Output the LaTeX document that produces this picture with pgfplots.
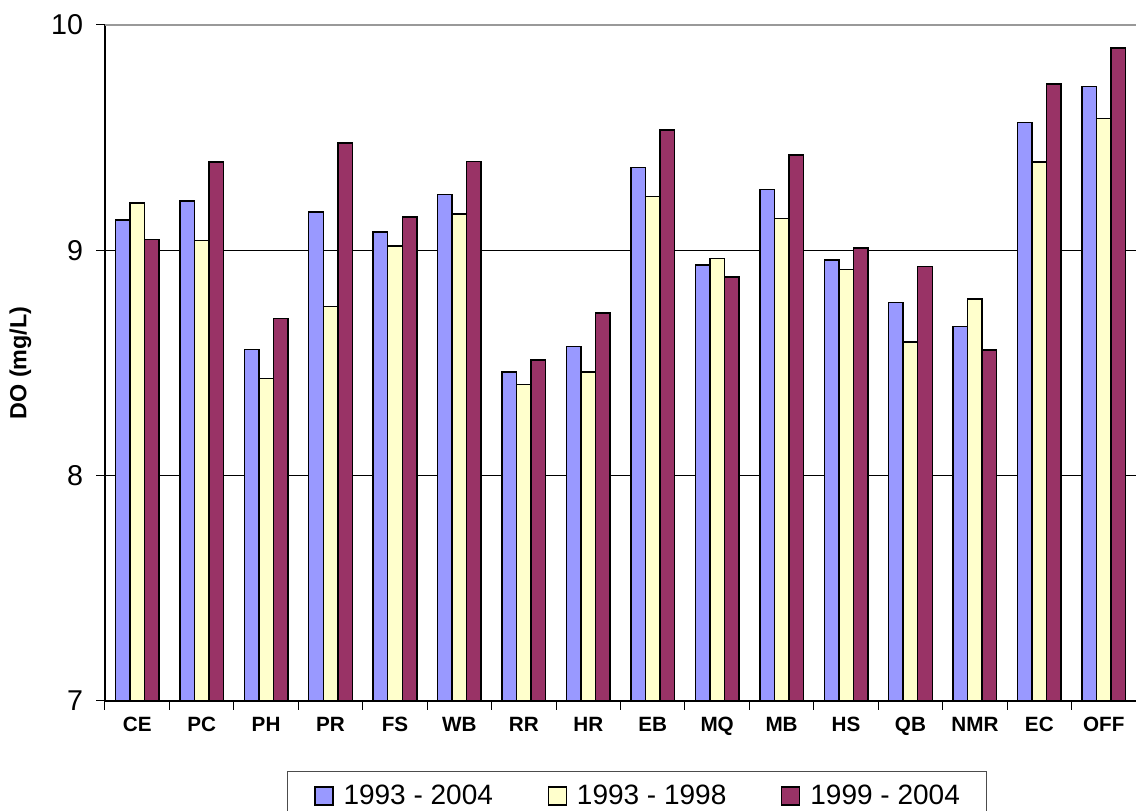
\documentclass[border=0pt]{standalone}
\usepackage{pgfplots}
\pgfplotsset{compat=1.18}
\usepackage{fontspec}
\setmainfont{Liberation Sans}
\definecolor{cblue}{HTML}{9999FF}
\definecolor{cyel}{HTML}{FFFFCC}
\definecolor{cmar}{HTML}{993366}
\begin{document}
\begin{tikzpicture}
\begin{axis}[
  scale only axis,
  width=773.25pt, height=507pt,
  xmin=-0.5, xmax=15.5,
  ymin=7, ymax=10,
  ytick={7,8,9,10},
  ymajorgrids,
  grid style={black, line width=0.75pt},
  axis line style={draw=black, line width=0.9pt},
  axis x line*=bottom,
  axis y line*=left,
  tick align=outside,
  major tick length=6.5pt,
  tick style={black, line width=0.75pt},
  xtick={-0.5,0.5,...,15.5},
  xticklabels={CE,PC,PH,PR,FS,WB,RR,HR,EB,MQ,MB,HS,QB,NMR,EC,OFF,{}},
  xticklabel style={font=\fontsize{15.5pt}{18pt}\selectfont\bfseries, xshift=24.16pt, yshift=-2pt},
  yticklabel style={font=\fontsize{21.5pt}{26pt}\selectfont, xshift=-6.5pt},
  /pgf/number format/assume math mode=true,
  ylabel={DO (mg/L)},
  every axis y label/.style={at={(axis description cs:-0.082,0.5)}, rotate=90, anchor=center, font=\fontsize{17.5pt}{20pt}\selectfont\bfseries},
  ybar, bar width=10.9pt,
  legend columns=3,
  legend style={at={(axis description cs:0.1765,0)}, anchor=north west, yshift=-52.3pt, draw=black!70, line width=0.8pt,
    font=\fontsize{21pt}{25pt}\selectfont, inner xsep=20pt, inner ysep=10.5pt,
    nodes={inner sep=0pt},
    /tikz/every odd column/.append style={column sep=7.5pt},
    /tikz/every even column/.append style={column sep=41pt}},
  legend image code/.code={\draw[#1, line width=1pt] (0pt,-6.75pt) rectangle (13.5pt,6.75pt);},
]
\draw[gray!80, line width=1pt] (rel axis cs:0,1) -- (rel axis cs:1,1);
\addplot[fill=cblue, draw=black, line width=1.1pt, bar shift=-10.9pt] coordinates {
(0,9.134) (1,9.219) (2,8.561) (3,9.170) (4,9.081) (5,9.247) (6,8.461) (7,8.572)
(8,9.367) (9,8.935) (10,9.271) (11,8.958) (12,8.769) (13,8.661) (14,9.568) (15,9.728)};
\addplot[fill=cyel, draw=black, line width=1.1pt, bar shift=0pt] coordinates {
(0,9.211) (1,9.043) (2,8.430) (3,8.750) (4,9.019) (5,9.162) (6,8.405) (7,8.461)
(8,9.240) (9,8.964) (10,9.142) (11,8.914) (12,8.594) (13,8.785) (14,9.391) (15,9.584)};
\addplot[fill=cmar, draw=black, line width=1.1pt, bar shift=10.9pt] coordinates {
(0,9.049) (1,9.392) (2,8.698) (3,9.476) (4,9.148) (5,9.395) (6,8.514) (7,8.722)
(8,9.533) (9,8.881) (10,9.422) (11,9.010) (12,8.929) (13,8.557) (14,9.738) (15,9.897)};
\legend{1993 - 2004, 1993 - 1998, 1999 - 2004}
\end{axis}
\pgfresetboundingbox
\path[use as bounding box] ([xshift=-78.75pt,yshift=-82.5pt]current axis.south west) rectangle ([yshift=18.75pt]current axis.north east);
\end{tikzpicture}
\end{document}
